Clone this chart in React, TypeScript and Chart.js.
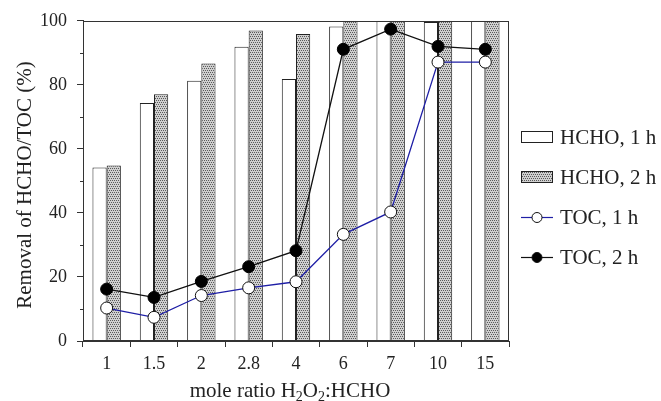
import React, { useEffect, useRef } from 'react';
import { Chart, registerables } from 'chart.js';

Chart.register(...registerables);

const categories = ['1', '1.5', '2', '2.8', '4', '6', '7', '10', '15'];
const hcho1h = [54.2, 74.3, 81.3, 91.9, 81.8, 98.2, 100, 99.6, 100];
const hcho2h = [54.8, 77.1, 86.7, 97.0, 95.9, 100, 100, 100, 100];
const toc1h = [10.3, 7.4, 14.2, 16.6, 18.5, 33.3, 40.3, 87.1, 87.1];
const toc2h = [16.2, 13.6, 18.6, 23.2, 28.2, 91.1, 97.4, 92.0, 91.1];
const seriesLabels = ['HCHO, 1 h', 'HCHO, 2 h', 'TOC, 1 h', 'TOC, 2 h'];
const yMin = 0;
const yMax = 100;
const yStep = 20;
const yMinorTicks = [10, 30, 50, 70, 90];
const yTitle = 'Removal of HCHO/TOC (%)';

const FONT = "'Liberation Serif', 'Times New Roman', serif";
const INK = '#222';
const BLUE = '#1f1fa6';

function makePattern(): CanvasPattern | string {
  const c = document.createElement('canvas');
  c.width = 4;
  c.height = 4;
  const x = c.getContext('2d');
  if (!x) return '#bbb';
  x.fillStyle = '#cfcfcf';
  x.fillRect(0, 0, 4, 4);
  x.fillStyle = '#5a5a5a';
  x.fillRect(0, 0, 1, 1);
  x.fillRect(2, 0, 1, 1);
  x.fillRect(1, 2, 1, 1);
  x.fillRect(3, 2, 1, 1);
  const p = x.createPattern(c, 'repeat');
  return p || '#bbb';
}

const decorPlugin = {
  id: 'decor',
  afterDraw(chart: any) {
    const ctx: CanvasRenderingContext2D = chart.ctx;
    const a = chart.chartArea;
    const ys = chart.scales.y;
    ctx.save();
    // frame
    ctx.strokeStyle = '#333';
    ctx.lineWidth = 1;
    const l = Math.round(a.left) + 0.5;
    const t = Math.round(a.top) + 0.5;
    const r = Math.round(a.right) - 0.5;
    const b = Math.round(a.bottom) - 0.5;
    ctx.strokeRect(l, t, r - l, b - t);
    // minor ticks
    for (const v of yMinorTicks) {
      const py = Math.round(ys.getPixelForValue(v)) + 0.5;
      ctx.beginPath();
      ctx.moveTo(l - 3.5, py);
      ctx.lineTo(l, py);
      ctx.stroke();
    }
    // y title
    ctx.fillStyle = INK;
    ctx.font = `21px ${FONT}`;
    ctx.textAlign = 'center';
    ctx.textBaseline = 'middle';
    ctx.translate(25, 185);
    ctx.rotate(-Math.PI / 2);
    ctx.fillText(yTitle, 0, 0);
    ctx.restore();

    // x title with subscripts
    ctx.save();
    ctx.fillStyle = INK;
    ctx.textBaseline = 'alphabetic';
    ctx.textAlign = 'left';
    const parts: [string, boolean][] = [
      ['mole ratio H', false],
      ['2', true],
      ['O', false],
      ['2', true],
      [':HCHO', false],
    ];
    const big = `21px ${FONT}`;
    const small = `14px ${FONT}`;
    let total = 0;
    for (const [s, sub] of parts) {
      ctx.font = sub ? small : big;
      total += ctx.measureText(s).width;
    }
    let x = 290 - total / 2;
    const base = 397;
    for (const [s, sub] of parts) {
      ctx.font = sub ? small : big;
      ctx.fillText(s, x, sub ? base + 4 : base);
      x += ctx.measureText(s).width;
    }
    ctx.restore();

    // legend
    ctx.save();
    const ds = chart.data.datasets;
    for (let i = 0; i < ds.length; i++) {
      const d = ds[i];
      const cy = 137 + i * 40;
      const x0 = 521;
      const x1 = 553;
      if (d.type === 'bar' || !d.type) {
        ctx.fillStyle = d.backgroundColor;
        ctx.fillRect(x0, cy - 6, x1 - x0, 12);
        ctx.strokeStyle = '#222';
        ctx.lineWidth = 1;
        ctx.strokeRect(x0 + 0.5, cy - 5.5, x1 - x0 - 1, 11);
      } else {
        ctx.strokeStyle = d.borderColor;
        ctx.lineWidth = 1.2;
        ctx.beginPath();
        ctx.moveTo(x0, cy + 0.5);
        ctx.lineTo(x1, cy + 0.5);
        ctx.stroke();
        ctx.beginPath();
        ctx.arc((x0 + x1) / 2, cy + 0.5, 5, 0, Math.PI * 2);
        ctx.fillStyle = d.pointBackgroundColor;
        ctx.fill();
        ctx.strokeStyle = '#111';
        ctx.lineWidth = 1;
        ctx.stroke();
      }
      ctx.fillStyle = INK;
      ctx.font = `21px ${FONT}`;
      ctx.textAlign = 'left';
      ctx.textBaseline = 'middle';
      ctx.fillText(d.label, 560, cy + 1);
    }
    ctx.restore();
  },
};

export default function App() {
  const ref = useRef<HTMLCanvasElement | null>(null);
  useEffect(() => {
    if (!ref.current) return;
    const pattern = makePattern();
    const chart = new Chart(ref.current, {
      type: 'bar',
      data: {
        labels: categories,
        datasets: [
          {
            type: 'bar',
            label: seriesLabels[0],
            data: hcho1h,
            backgroundColor: '#ffffff',
            borderColor: '#222',
            borderWidth: 1,
            borderSkipped: 'bottom',
            categoryPercentage: 0.6,
            barPercentage: 1,
            order: 2,
          } as any,
          {
            type: 'bar',
            label: seriesLabels[1],
            data: hcho2h,
            backgroundColor: pattern as any,
            borderColor: '#222',
            borderWidth: 1,
            borderSkipped: 'bottom',
            categoryPercentage: 0.6,
            barPercentage: 1,
            order: 2,
          } as any,
          {
            type: 'line',
            label: seriesLabels[2],
            data: toc1h,
            borderColor: BLUE,
            borderWidth: 1.3,
            pointRadius: 6,
            pointBackgroundColor: '#ffffff',
            pointBorderColor: '#111',
            pointBorderWidth: 1,
            tension: 0,
            order: 0,
          } as any,
          {
            type: 'line',
            label: seriesLabels[3],
            data: toc2h,
            borderColor: '#111',
            borderWidth: 1.3,
            pointRadius: 6,
            pointBackgroundColor: '#000000',
            pointBorderColor: '#000',
            pointBorderWidth: 1,
            tension: 0,
            order: 1,
          } as any,
        ],
      },
      options: {
        responsive: false,
        animation: false,
        events: [],
        layout: { padding: { left: 0, top: 16, right: 152, bottom: 0 } },
        plugins: {
          legend: { display: false },
          tooltip: { enabled: false },
          title: { display: false },
        },
        scales: {
          x: {
            offset: true,
            grid: {
              offset: true,
              drawOnChartArea: false,
              drawTicks: true,
              tickLength: 6,
              color: '#333',
            },
            border: { display: true, color: '#333' },
            ticks: {
              color: INK,
              font: { family: FONT, size: 18 },
              padding: 6,
              maxRotation: 0,
            },
            afterFit(scale: any) {
              scale.height = 60;
            },
          },
          y: {
            min: yMin,
            max: yMax,
            grid: {
              drawOnChartArea: false,
              drawTicks: true,
              tickLength: 6,
              color: '#333',
            },
            border: { display: true, color: '#333' },
            ticks: {
              stepSize: yStep,
              color: INK,
              font: { family: FONT, size: 18 },
              padding: 10,
            },
            afterFit(scale: any) {
              scale.width = 83;
            },
          },
        },
      },
      plugins: [decorPlugin],
    });
    return () => chart.destroy();
  }, []);
  return (
    <div style={{ position: 'absolute', left: 0, top: 0, width: 661, height: 401, background: '#fff' }}>
      <canvas ref={ref} width={661} height={401} style={{ display: 'block' }} />
    </div>
  );
}
